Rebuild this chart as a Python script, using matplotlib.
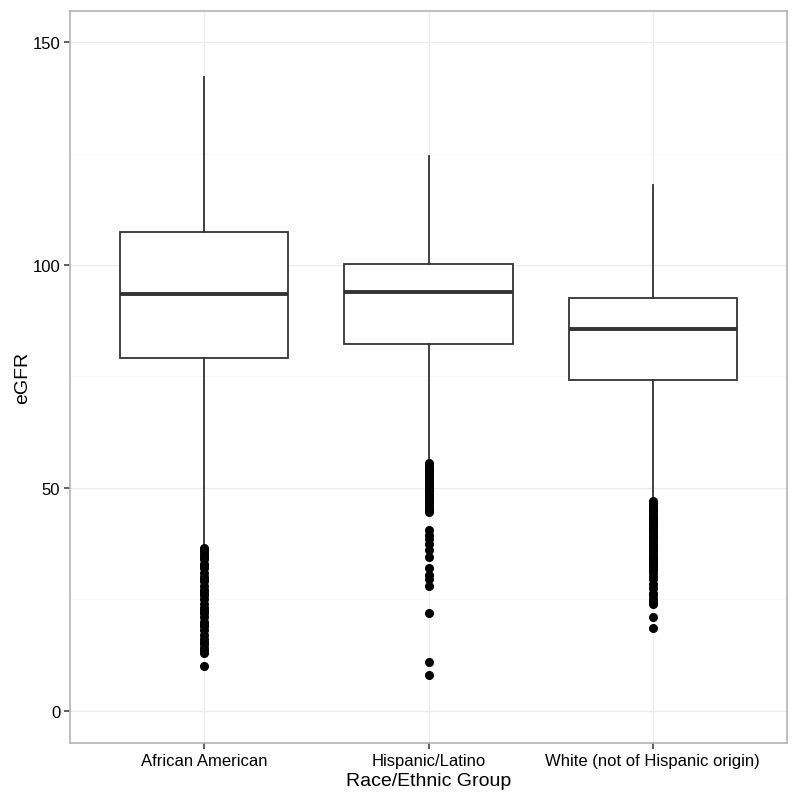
import numpy as np
import matplotlib
matplotlib.use("Agg")
import matplotlib.pyplot as plt
from matplotlib.ticker import MultipleLocator

plt.rcParams['font.family'] = ['Liberation Sans', 'DejaVu Sans']

# summary stats
groups = ["African American", "Hispanic/Latino", "White (not of Hispanic origin)"]
whisker_hi = [142.2, 124.5, 118.0]
q3 = [107.5, 100.3, 92.6]
medians = [93.6, 94.0, 85.7]
q1 = [79.2, 82.3, 74.2]
whisker_lo = [37.0, 56.3, 47.6]

outliers_aa = [36.5, 36, 35.5, 35, 34.5, 34, 33, 32.5, 32, 31, 30, 29.5, 29, 28, 27,
               26.5, 26, 25, 24, 23, 22.5, 22, 21, 20, 19.5, 19, 18, 17, 16, 15.5,
               15, 14, 13.5, 13, 10]
outliers_hl = [55.5, 55, 54.5, 54, 53.5, 53, 52.5, 52, 51.5, 51, 50.5, 50, 49.5, 49,
               48.5, 48, 47.5, 47, 46.5, 46, 45.5, 45, 44.5, 40.5, 39.5, 38.5, 37.5,
               36, 34.5, 32, 30.5, 29.5, 28, 22, 11, 8]
outliers_wh = [47, 46.5, 46, 45.5, 45, 44.5, 44, 43.5, 43, 42.5, 42, 41.5, 41, 40.5,
               40, 39.5, 39, 38.5, 38, 37.5, 37, 36.5, 36, 35.5, 35, 34.5, 34, 33.5,
               33, 32.5, 32, 31.5, 31, 30, 29.5, 28.5, 27.5, 26.5, 26, 25, 24.5, 24,
               21, 18.5]
outliers = [outliers_aa, outliers_hl, outliers_wh]

stats = []
for i, g in enumerate(groups):
    stats.append({
        "label": g, "med": medians[i], "q1": q1[i], "q3": q3[i],
        "whislo": whisker_lo[i], "whishi": whisker_hi[i], "fliers": outliers[i],
    })

fig = plt.figure(figsize=(8, 8.04), dpi=100)
ax = fig.add_axes([70 / 800, 1 - 744 / 804, 717 / 800, 732 / 804])

line = "#333333"
ax.bxp(stats, positions=[1, 2, 3], widths=0.75, patch_artist=True,
       boxprops=dict(facecolor="white", edgecolor=line, linewidth=1.3),
       medianprops=dict(color=line, linewidth=2.8),
       whiskerprops=dict(color=line, linewidth=1.3),
       capprops=dict(linewidth=0),
       flierprops=dict(marker="o", markerfacecolor="black", markeredgecolor="black",
                       markersize=5.5, linestyle="none"),
       zorder=3)

ax.set_xlim(0.4, 3.6)
ax.set_ylim(-7.25, 157.0)
ax.yaxis.set_major_locator(MultipleLocator(50))
ax.yaxis.set_minor_locator(MultipleLocator(25))
ax.set_xticks([1, 2, 3])
ax.set_xticklabels(groups)

ax.grid(True, which="major", color="#ebebeb", linewidth=0.9, zorder=0)
ax.grid(True, which="minor", axis="y", color="#f7f7f7", linewidth=0.6, zorder=0)
ax.set_axisbelow(True)

for s in ax.spines.values():
    s.set_color("#b3b3b3")
    s.set_linewidth(1.2)

ax.tick_params(axis="both", which="major", length=4, width=1.1, color="#333333",
               labelsize=12, labelcolor="black", pad=3)
ax.tick_params(axis="both", which="minor", length=0)

ax.set_xlabel("Race/Ethnic Group", fontsize=14, labelpad=3)
ax.set_ylabel("eGFR", fontsize=14, labelpad=1)

fig.savefig("out.png", dpi=100)
